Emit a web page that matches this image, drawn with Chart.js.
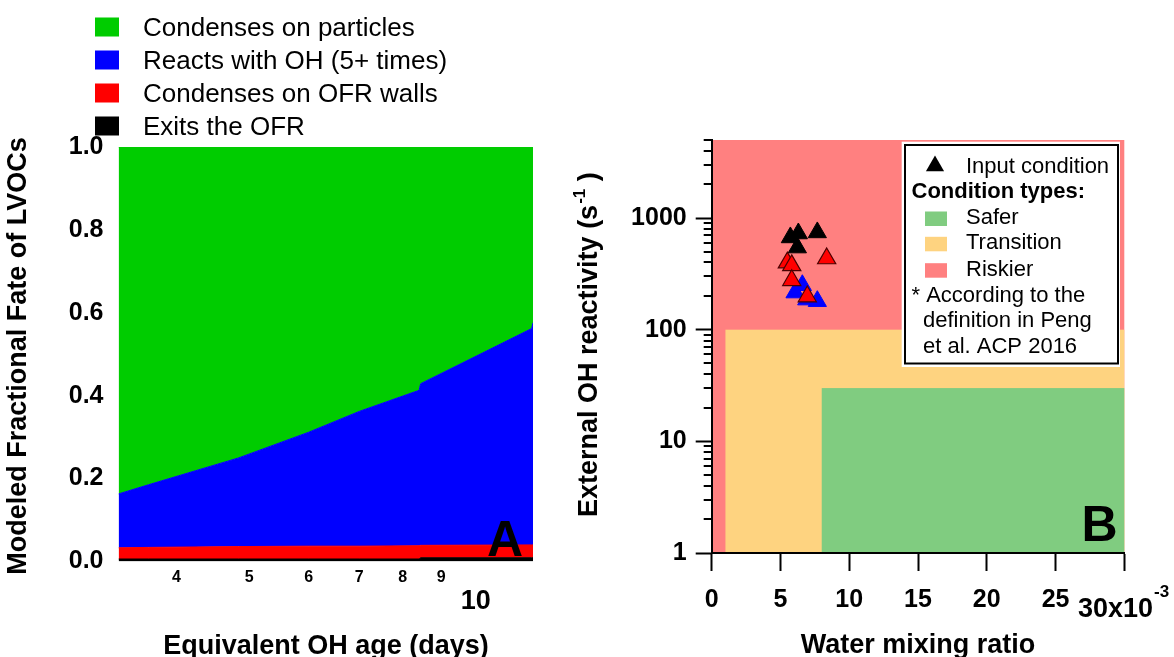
<!DOCTYPE html>
<html>
<head>
<meta charset="utf-8">
<title>LVOC fate and OFR operating conditions</title>
<script src="https://cdn.jsdelivr.net/npm/chart.js@4.4.0/dist/chart.umd.min.js"></script>
<style>
  html, body { margin: 0; padding: 0; background: #fff; }
  #wrap { position: relative; width: 1174px; height: 657px; overflow: hidden; }
  #fate { position: absolute; left: 0; top: 0; width: 560px; height: 657px; }
  #risk { position: absolute; left: 560px; top: 0; width: 614px; height: 657px; }
</style>
</head>
<body>
<div id="wrap">
  <canvas id="fate" width="560" height="657"></canvas>
  <canvas id="risk" width="614" height="657"></canvas>
</div>
<script>
// ---------- Panel A: modeled fate of LVOCs vs equivalent OH age ----------
const ohAgeDays          = [3.35, 3.67, 4.84, 6.0, 7.0, 8.41, 8.45, 11.87, 11.92];
const exitsOFR           = [0.006, 0.006, 0.006, 0.006, 0.006, 0.006, 0.009, 0.009, 0.009];
const wallsOFR           = [0.027, 0.028, 0.030, 0.031, 0.031, 0.032, 0.030, 0.031, 0.031];
const reactsOH           = [0.130, 0.151, 0.214, 0.275, 0.325, 0.375, 0.390, 0.522, 0.536];
const condensesParticles = [0.837, 0.815, 0.750, 0.688, 0.638, 0.587, 0.571, 0.438, 0.424];
const ageTickValues      = [4, 5, 6, 7, 8, 9, 10];
const fateLabels         = ['Condenses on particles', 'Reacts with OH (5+ times)', 'Condenses on OFR walls', 'Exits the OFR'];

// ---------- Panel B: water mixing ratio vs external OH reactivity ----------
const waterInput = [0.00572, 0.00630, 0.00768, 0.00623];
const reactInput = [670, 727, 743, 544];
const waterRed   = [0.00550, 0.00582, 0.00836, 0.00582, 0.00695];
const reactRed   = [399, 377, 434, 277, 198];
const waterBlue  = [0.00659, 0.00606, 0.00691, 0.00768];
const reactBlue  = [250, 215, 186, 180];
const waterTicks = [0, 0.005, 0.010, 0.015, 0.020, 0.025, 0.030];
const reactMajorTicks = [1, 10, 100, 1000];
const reactMinorTicks = [2, 3, 4, 5, 6, 7, 8, 9, 20, 30, 40, 50, 60, 70, 80, 90,
                         200, 300, 400, 500, 600, 700, 800, 900, 2000, 3000, 4000, 5000];
// zone bounds: [water min, water max, reactivity min, reactivity max]
const riskierZone    = [0, 0.030, 1, 5000];
const transitionZone = [0.001, 0.030, 1, 100];
const saferZone      = [0.008, 0.030, 1, 30];

const FONT = '"Liberation Sans", Arial, Helvetica, sans-serif';
Chart.defaults.font.family = FONT;
Chart.defaults.color = '#000';

const fateColors = { particles: '#00cc00', oh: '#0000ff', walls: '#ff0000', exits: '#000000' };
const zoneColors = { safer: '#80cc80', transition: '#fed380', riskier: '#ff8080' };

function fateSeries(values) {
  return ohAgeDays.map((d, i) => ({ x: d, y: values[i] }));
}
function points(xs, ys) {
  return xs.map((v, i) => ({ x: v, y: ys[i] }));
}

// Decorations for panel A: age labels, titles, legend, panel letter
const fateDecor = {
  id: 'fateDecor',
  afterDraw(chart) {
    const { ctx, scales: { x } } = chart;
    ctx.save();
    ctx.fillStyle = '#000';
    ctx.textAlign = 'center';
    ctx.textBaseline = 'alphabetic';
    ageTickValues.forEach(v => {
      const px = x.getPixelForValue(v);
      if (v === 10) {
        ctx.font = 'bold 27px ' + FONT;
        ctx.fillText(String(v), px, 608.5);
      } else {
        ctx.font = 'bold 16px ' + FONT;
        ctx.fillText(String(v), px, 581.7);
      }
    });

    ctx.font = 'bold 27px ' + FONT;
    ctx.fillText('Equivalent OH age (days)', 326, 654);

    ctx.save();
    ctx.translate(25.5, 356);
    ctx.rotate(-Math.PI / 2);
    ctx.fillText('Modeled Fractional Fate of LVOCs', 0, 0);
    ctx.restore();

    // legend
    const swatch = [fateColors.particles, fateColors.oh, fateColors.walls, fateColors.exits];
    const baselines = [36, 69, 102, 135];
    ctx.textAlign = 'left';
    ctx.font = '26px ' + FONT;
    fateLabels.forEach((lab, i) => {
      ctx.fillStyle = swatch[i];
      ctx.fillRect(95, baselines[i] - 18.5, 24, 19);
      ctx.fillStyle = '#000';
      ctx.fillText(lab, 143, baselines[i]);
    });

    ctx.font = 'bold 50px ' + FONT;
    ctx.fillText('A', 487, 556);
    ctx.restore();
  }
};

new Chart(document.getElementById('fate'), {
  type: 'line',
  data: {
    datasets: [
      { label: 'Exits the OFR', data: fateSeries(exitsOFR), backgroundColor: fateColors.exits, borderColor: fateColors.exits, fill: 'origin' },
      { label: 'Condenses on OFR walls', data: fateSeries(wallsOFR), backgroundColor: fateColors.walls, borderColor: fateColors.walls, fill: '-1' },
      { label: 'Reacts with OH (5+ times)', data: fateSeries(reactsOH), backgroundColor: fateColors.oh, borderColor: fateColors.oh, fill: '-1' },
      { label: 'Condenses on particles', data: fateSeries(condensesParticles), backgroundColor: fateColors.particles, borderColor: fateColors.particles, fill: '-1' }
    ]
  },
  options: {
    responsive: false,
    animation: false,
    devicePixelRatio: 1,
    events: [],
    layout: { padding: { left: 0, right: 27, top: 147, bottom: 0 } },
    elements: { line: { tension: 0, borderWidth: 1 }, point: { radius: 0 } },
    plugins: { legend: { display: false }, tooltip: { enabled: false } },
    scales: {
      x: {
        type: 'logarithmic', min: 3.35, max: 11.92,
        grid: { display: false }, border: { display: false },
        ticks: { display: false },
        afterFit(s) { s.height = 95.5; }
      },
      y: {
        stacked: true, min: 0, max: 1,
        grid: { display: false, drawTicks: false }, border: { display: false },
        ticks: { stepSize: 0.2, padding: 15, color: '#000', font: { size: 25, weight: 'bold' }, callback: v => v.toFixed(1) },
        afterFit(s) { s.width = 118.5; }
      }
    }
  },
  plugins: [fateDecor]
});

// Decorations for panel B: condition zones, minor ticks, labels, legend box
const OX = 560; // canvas offset on the page
const riskDecor = {
  id: 'riskDecor',
  beforeDraw(chart) {
    const { ctx, scales: { x, y } } = chart;
    const zone = (z, color) => {
      const x1 = x.getPixelForValue(z[0]), x2 = x.getPixelForValue(z[1]);
      const y1 = y.getPixelForValue(z[3]), y2 = y.getPixelForValue(z[2]);
      ctx.fillStyle = color;
      ctx.fillRect(x1, y1, x2 - x1, y2 - y1);
    };
    ctx.save();
    zone(riskierZone, zoneColors.riskier);
    zone(transitionZone, zoneColors.transition);
    zone(saferZone, zoneColors.safer);
    ctx.restore();
  },
  afterDraw(chart) {
    const { ctx, chartArea: a, scales: { x, y } } = chart;
    ctx.save();
    // minor ticks on the reactivity axis
    ctx.strokeStyle = '#000';
    ctx.lineWidth = 2;
    ctx.beginPath();
    reactMinorTicks.forEach(v => {
      const py = Math.round(y.getPixelForValue(v));
      ctx.moveTo(a.left - 8, py);
      ctx.lineTo(a.left, py);
    });
    ctx.stroke();

    // water mixing ratio labels
    ctx.fillStyle = '#000';
    ctx.textBaseline = 'alphabetic';
    ctx.textAlign = 'center';
    ctx.font = 'bold 25px ' + FONT;
    waterTicks.slice(0, -1).forEach(v => {
      ctx.fillText(String(Math.round(v * 1000)), x.getPixelForValue(v), 607);
    });
    ctx.textAlign = 'left';
    ctx.font = 'bold 27px ' + FONT;
    const last = String(Math.round(waterTicks[waterTicks.length - 1] * 1000)) + 'x10';
    ctx.fillText(last, 1078 - OX, 617);
    const wl = ctx.measureText(last).width;
    ctx.font = 'bold 17px ' + FONT;
    ctx.fillText('-3', 1078 - OX + wl + 1, 597);

    // axis titles
    ctx.textAlign = 'center';
    ctx.font = 'bold 27px ' + FONT;
    ctx.fillText('Water mixing ratio', 918 - OX, 653);

    ctx.save();
    ctx.translate(597 - OX, 517);
    ctx.rotate(-Math.PI / 2);
    ctx.textAlign = 'left';
    const main = 'External OH reactivity (s';
    ctx.font = 'bold 27px ' + FONT;
    ctx.fillText(main, 0, 0);
    const mw = ctx.measureText(main).width;
    ctx.font = 'bold 17px ' + FONT;
    ctx.fillText('-1', mw + 1, -12);
    const sw = ctx.measureText('-1').width;
    ctx.font = 'bold 27px ' + FONT;
    ctx.fillText(' )', mw + sw + 1, 0);
    ctx.restore();

    // legend box
    ctx.fillStyle = '#fff';
    ctx.fillRect(901.7 - OX, 141.7, 1120 - 901.7, 367 - 141.7);
    ctx.strokeStyle = '#000';
    ctx.lineWidth = 2;
    ctx.strokeRect(905 - OX, 145, 1118 - 905, 363.5 - 145);

    ctx.fillStyle = '#000';
    const tx = 935 - OX, ty = 166, r = 10.5;
    ctx.beginPath();
    ctx.moveTo(tx, ty - r);
    ctx.lineTo(tx + r * Math.sin(2 * Math.PI / 3), ty + r / 2);
    ctx.lineTo(tx - r * Math.sin(2 * Math.PI / 3), ty + r / 2);
    ctx.closePath();
    ctx.fill();

    ctx.textAlign = 'left';
    ctx.font = '22px ' + FONT;
    ctx.fillText('Input condition', 966 - OX, 172.7);
    ctx.font = 'bold 22px ' + FONT;
    ctx.fillText('Condition types:', 911.5 - OX, 198.3);

    const entries = [['Safer', zoneColors.safer, 224], ['Transition', zoneColors.transition, 249.3], ['Riskier', zoneColors.riskier, 275.7]];
    ctx.font = '22px ' + FONT;
    entries.forEach(([lab, col, bl]) => {
      ctx.fillStyle = col;
      ctx.fillRect(925 - OX, bl - 12.5, 22, 14.5);
      ctx.fillStyle = '#000';
      ctx.fillText(lab, 966 - OX, bl);
    });
    ctx.fillText('* According to the', 911.5 - OX, 301.7);
    ctx.fillText('definition in Peng', 923 - OX, 327.2);
    ctx.fillText('et al. ACP 2016', 923 - OX, 352.7);

    ctx.font = 'bold 50px ' + FONT;
    ctx.fillText('B', 1081.5 - OX, 541);
    ctx.restore();
  }
};

new Chart(document.getElementById('risk'), {
  type: 'scatter',
  data: {
    datasets: [
      { label: 'Condition set 2', data: points(waterRed, reactRed), pointStyle: 'triangle', pointRadius: 10.5,
        backgroundColor: '#ff0000', borderColor: '#4a0000', borderWidth: 1.2 },
      { label: 'Condition set 1', data: points(waterBlue, reactBlue), pointStyle: 'triangle', pointRadius: 10.5,
        backgroundColor: '#0000ff', borderColor: '#0000ff', borderWidth: 1 },
      { label: 'Input condition', data: points(waterInput, reactInput), pointStyle: 'triangle', pointRadius: 10.5,
        backgroundColor: '#000000', borderColor: '#000000', borderWidth: 1 }
    ]
  },
  options: {
    responsive: false,
    animation: false,
    devicePixelRatio: 1,
    events: [],
    layout: { padding: { left: 0, right: 49.7, top: 140, bottom: 0 } },
    plugins: { legend: { display: false }, tooltip: { enabled: false } },
    scales: {
      x: {
        type: 'linear', min: 0, max: 0.030, z: 1,
        afterBuildTicks(s) { s.ticks = waterTicks.map(v => ({ value: v })); },
        grid: { display: true, drawOnChartArea: false, drawTicks: true, tickLength: 18, tickWidth: 2, tickColor: '#000' },
        border: { display: true, color: '#000', width: 2 },
        ticks: { display: false },
        afterFit(s) { s.height = 104; }
      },
      y: {
        type: 'logarithmic', min: 1, max: 5000, z: 1,
        afterBuildTicks(s) { s.ticks = reactMajorTicks.map(v => ({ value: v })); },
        grid: { display: true, drawOnChartArea: false, drawTicks: true, tickLength: 16, tickWidth: 2, tickColor: '#000' },
        border: { display: true, color: '#000', width: 2 },
        ticks: { padding: 9, color: '#000', font: { size: 25, weight: 'bold' }, callback: v => String(v) },
        afterFit(s) { s.width = 151.7; }
      }
    }
  },
  plugins: [riskDecor]
});
</script>
</body>
</html>
